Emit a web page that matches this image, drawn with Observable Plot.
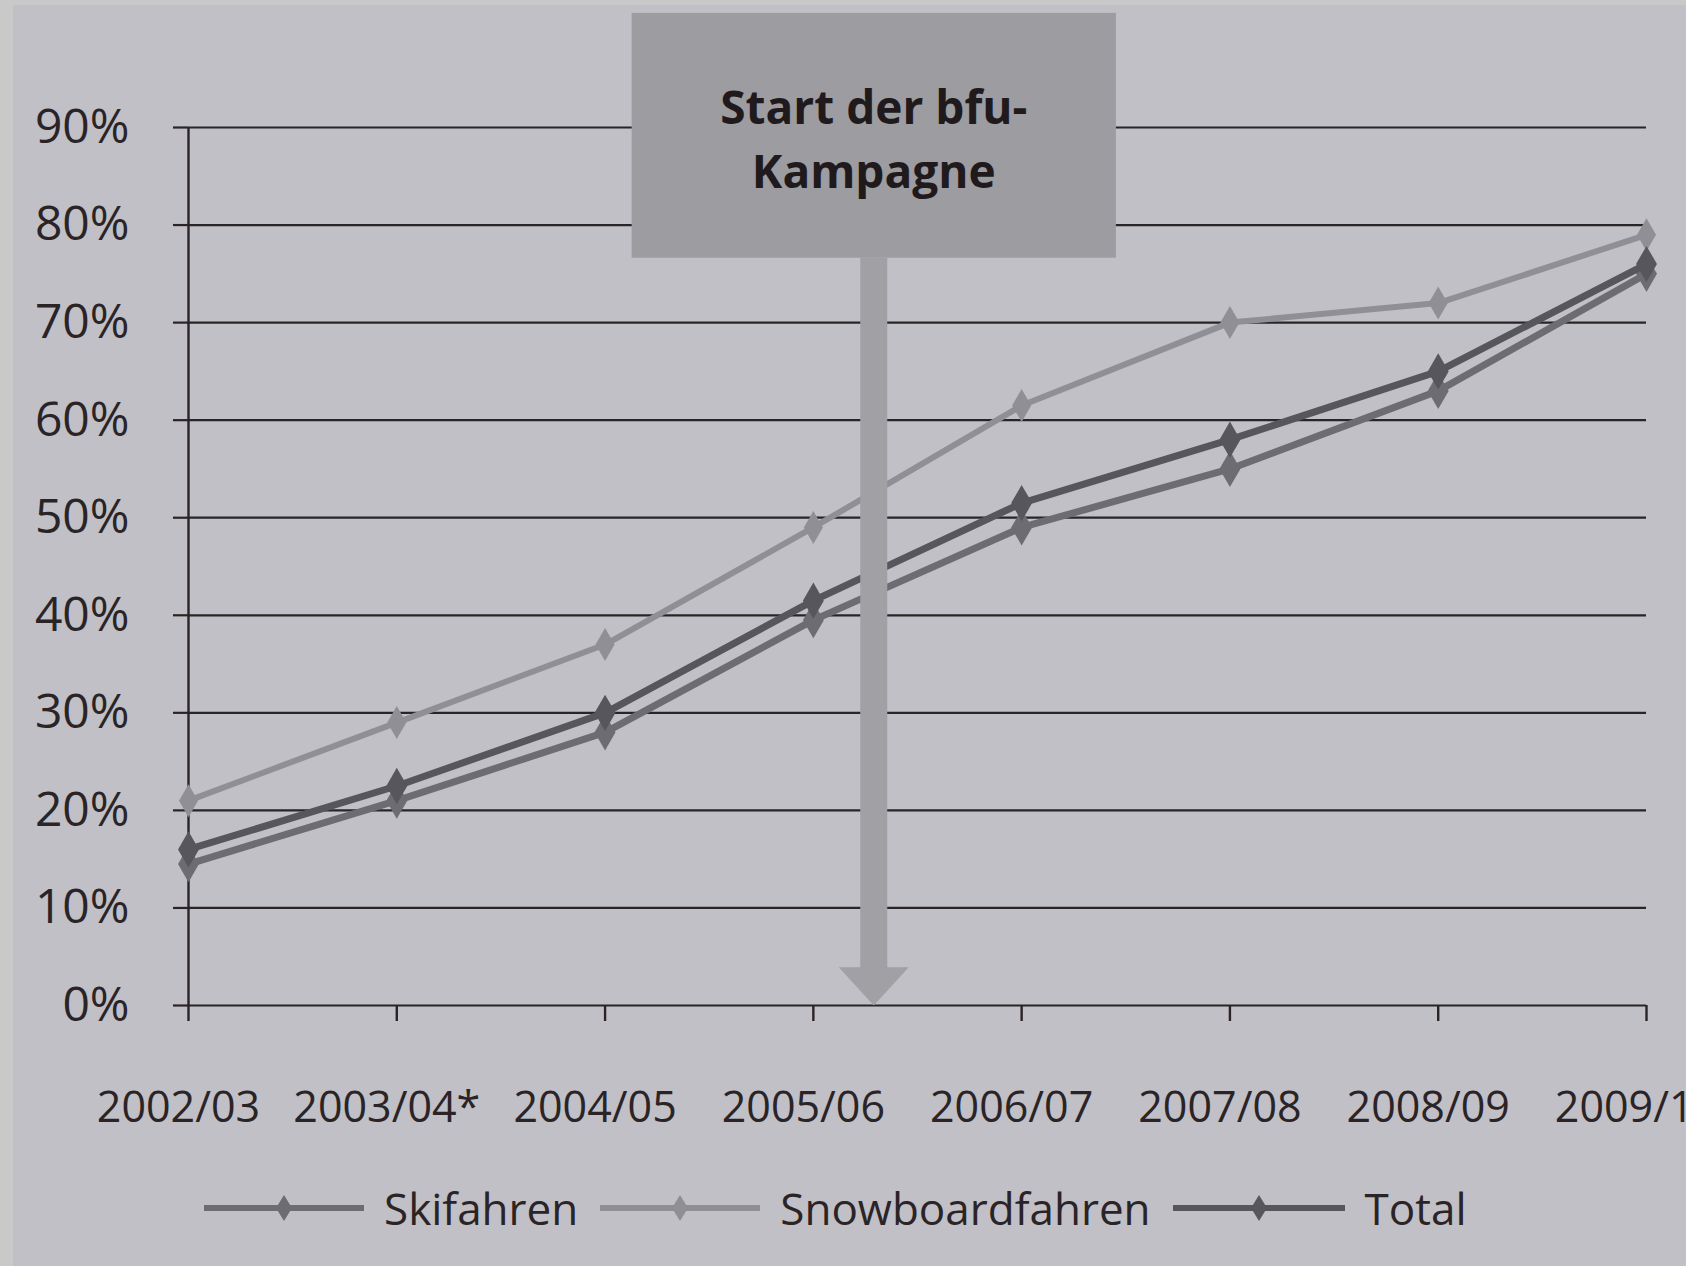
<!DOCTYPE html>
<html>
<head>
<meta charset="utf-8">
<script src="https://cdn.jsdelivr.net/npm/d3@7"></script>
<script src="https://cdn.jsdelivr.net/npm/@observablehq/plot@0.6"></script>
<style>
  html, body { margin: 0; padding: 0; width: 1686px; height: 1266px; overflow: hidden; background: #c9c9ca; }
  #paper { position: absolute; left: 13px; top: 5px; right: 0; bottom: 0; background: #c0c0c6; }
  #chart { position: absolute; left: 0; top: 0; }
  #legend { position: absolute; left: 204px; top: 1178px; display: flex; align-items: center;
            font-family: "Open Sans", "Noto Sans", sans-serif; font-size: 44px; color: #2b2427; }
  #legend .item { display: flex; align-items: center; margin-right: 22px; }
  #legend svg { margin-right: 20px; }
</style>
</head>
<body>
<div id="paper"></div>
<div id="chart"></div>
<div id="legend"></div>
<script>
// ---- data ----
const seasons = ["2002/03", "2003/04*", "2004/05", "2005/06", "2006/07", "2007/08", "2008/09", "2009/10"];
const skifahren = [14.5, 21, 28, 39.5, 49, 55, 63, 75];
const snowboardfahren = [21, 29, 37, 49, 61.5, 70, 72, 79];
const total = [16, 22.5, 30, 41.5, 51.5, 58, 65, 76];
const yTicks = [0, 10, 20, 30, 40, 50, 60, 70, 80, 90];
const seriesNames = ["Skifahren", "Snowboardfahren", "Total"];
const seriesColors = ["#6c6c72", "#8f8f95", "#56565c"];
// annotation (campaign start between 2005/06 and 2006/07)
const campaign = {label: "Start der bfu-\nKampagne", x: 3.29, x1: 2.13, x2: 4.455, yTop: 101.7, yBottom: 76.6, yText: 89.2, shaftEnd: 3.6};

const idx = seasons.map((_, i) => i);
const rows = (vals, name) => vals.map((v, i) => ({i, v, name}));
const skiRows = rows(skifahren, seriesNames[0]);
const snowRows = rows(snowboardfahren, seriesNames[1]);
const totalRows = rows(total, seriesNames[2]);

const ink = "#2b2427";
const arrowColor = "#a0a0a5";
const boxColor = "#9c9ca1";

// flat arrowhead symbol, tip at the origin
const arrowHead = {
  draw(ctx, size) {
    const r = Math.sqrt(size / Math.PI);
    ctx.moveTo(-r, -r * 1.09);
    ctx.lineTo(r, -r * 1.09);
    ctx.lineTo(0, 0);
    ctx.closePath();
  }
};

const chart = Plot.plot({
  width: 1686,
  height: 1150,
  marginLeft: 188,
  marginRight: 40,
  marginTop: 127,
  marginBottom: 145,
  style: {background: "transparent", overflow: "visible", fontFamily: "'Open Sans', 'Noto Sans', sans-serif", color: ink},
  x: {type: "linear", domain: [0, 7]},
  y: {domain: [0, 90]},
  marks: [
    // grid
    Plot.ruleY(yTicks, {x1: 0, x2: 7, stroke: ink, strokeWidth: 2.2}),
    Plot.ruleX([0], {y1: 0, y2: 90, stroke: ink, strokeWidth: 2.4}),
    Plot.axisY({ticks: yTicks, tickFormat: d => d + "%", tickSize: 15, tickPadding: 44, fontSize: 48, stroke: ink, strokeWidth: 2.2, fill: ink, label: null}),
    // x tick marks
    Plot.axisX({ticks: idx, tickFormat: () => "", tickSize: 16, stroke: ink, strokeWidth: 2.4, label: null}),
    // x tick labels
    Plot.axisX({ticks: idx, tickFormat: i => seasons[i], tickSize: 0, tickPadding: 86, fontSize: 43, dx: -10, fill: ink, label: null}),
    // annotation box
    Plot.rect([campaign], {x1: "x1", x2: "x2", y1: "yBottom", y2: "yTop", fill: boxColor}),
    Plot.text([campaign], {x: "x", y: "yText", text: "label", fontSize: 46, fontWeight: "bold", fill: "#201a1d", lineHeight: 1.39, lineAnchor: "middle"}),
    // series
    Plot.line(snowRows, {x: "i", y: "v", stroke: seriesColors[1], strokeWidth: 6}),
    Plot.dot(snowRows, {x: "i", y: "v", symbol: "diamond", r: 10, fill: seriesColors[1]}),
    Plot.line(skiRows, {x: "i", y: "v", stroke: seriesColors[0], strokeWidth: 7}),
    Plot.dot(skiRows, {x: "i", y: "v", symbol: "diamond", r: 11, fill: seriesColors[0]}),
    Plot.line(totalRows, {x: "i", y: "v", stroke: seriesColors[2], strokeWidth: 7}),
    Plot.dot(totalRows, {x: "i", y: "v", symbol: "diamond", r: 11, fill: seriesColors[2]}),
    // arrow
    Plot.ruleX([campaign], {x: "x", y1: "shaftEnd", y2: "yBottom", stroke: arrowColor, strokeWidth: 27}),
    Plot.dot([campaign], {x: "x", y: 0, symbol: arrowHead, r: 35, fill: arrowColor, stroke: "none"})
  ]
});
document.getElementById("chart").appendChild(chart);

// legend
const legend = document.getElementById("legend");
seriesNames.forEach((name, k) => {
  const item = document.createElement("div");
  item.className = "item";
  const w = k === 2 ? 172 : 160;
  item.innerHTML = `<svg width="${w}" height="34" viewBox="0 0 ${w} 34">
    <line x1="0" y1="17" x2="${w}" y2="17" stroke="${seriesColors[k]}" stroke-width="6"/>
    <path d="M${w/2} 4 L${w/2 + 8} 17 L${w/2} 30 L${w/2 - 8} 17 Z" fill="${seriesColors[k]}"/>
  </svg><span>${name}</span>`;
  legend.appendChild(item);
});
</script>
</body>
</html>
